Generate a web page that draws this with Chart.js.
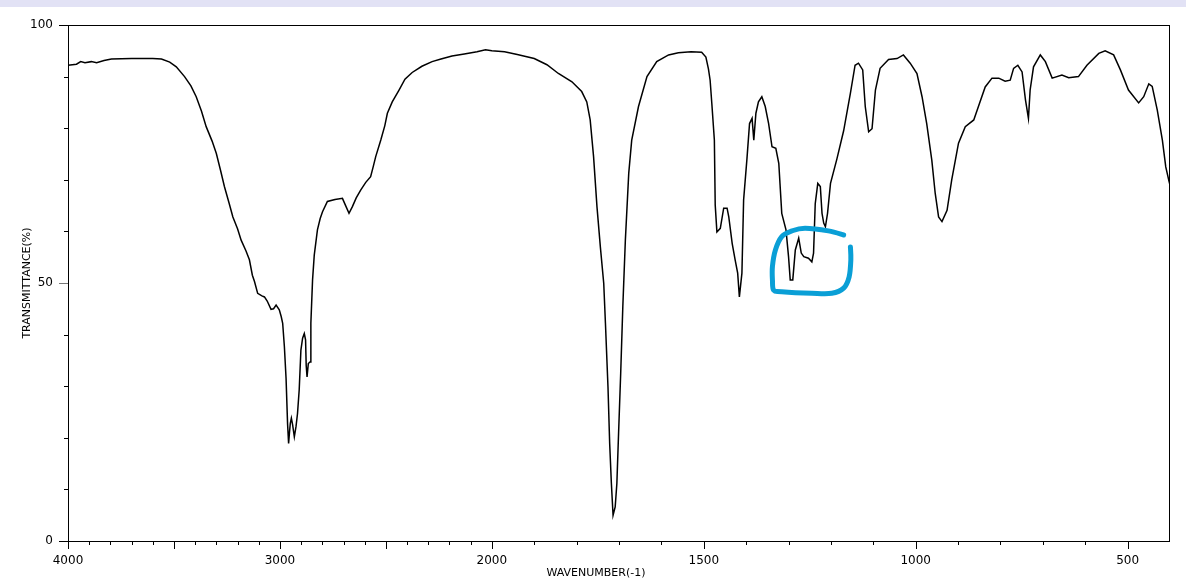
<!DOCTYPE html>
<html>
<head>
<meta charset="utf-8">
<title>IR spectrum</title>
<script src="https://cdn.jsdelivr.net/npm/chart.js@4.4.1/dist/chart.umd.min.js"></script>
<style>
  html, body { margin: 0; padding: 0; background: #fff; }
  #wrap { position: relative; width: 1186px; height: 581px; }
  #band { position: absolute; left: 0; top: 0; width: 1186px; height: 7px; background: #e2e2f5; }
</style>
</head>
<body>
<div id="wrap">
  <canvas id="irChart" width="1186" height="581"></canvas>
  <div id="band"></div>
</div>
<script>
// spectrum (wavenumber in cm-1, transmittance in %)
const wavenumbers = [
  4000, 3960, 3940, 3920, 3890, 3865, 3830, 3795, 3700, 3600, 3559, 3520, 3489, 3450, 3420, 3395,
  3370, 3348, 3320, 3300, 3280, 3262, 3240, 3222, 3200, 3183, 3160, 3144, 3130, 3120, 3105, 3085,
  3073, 3060, 3042, 3030, 3018, 3003, 2994, 2987, 2979, 2971, 2964, 2959, 2955, 2951, 2946, 2940,
  2932, 2924, 2917, 2909, 2901, 2893, 2885, 2879, 2876, 2872, 2866, 2858, 2854, 2846, 2838, 2823,
  2810, 2799, 2776, 2740, 2705, 2690, 2674, 2658, 2640, 2619, 2595, 2572, 2560, 2548, 2524, 2505,
  2493, 2470, 2438, 2410, 2376, 2330, 2282, 2240, 2188, 2130, 2070, 2030, 2000, 1970, 1940, 1900,
  1870, 1843, 1811, 1788, 1776, 1768, 1760, 1752, 1744, 1736, 1732, 1726, 1722, 1718, 1714, 1709,
  1705, 1701, 1696, 1691, 1685, 1677, 1670, 1654, 1634, 1611, 1583, 1560, 1530, 1505, 1495, 1489,
  1485, 1481, 1475, 1473, 1469, 1461, 1453, 1445, 1441, 1433, 1426, 1420, 1416, 1410, 1406, 1398,
  1392, 1386, 1382, 1377, 1371, 1363, 1355, 1347, 1339, 1330, 1323, 1316, 1306, 1300, 1296, 1290,
  1284, 1276, 1270, 1264, 1253, 1245, 1241, 1237, 1231, 1225, 1221, 1217, 1213, 1208, 1201, 1186,
  1170, 1154, 1143, 1135, 1125, 1119, 1111, 1103, 1095, 1084, 1064, 1044, 1029, 1013, 997, 985,
  974, 962, 954, 946, 938, 926, 915, 899, 883, 863, 852, 836, 820, 804, 789, 777,
  769, 759, 749, 741, 734, 730, 722, 706, 694, 678, 655, 639, 616, 596, 568, 553,
  533, 517, 498, 474, 462, 450, 442, 430, 418, 410, 402, 400
];
const transmittance = [
  92.2, 92.4, 92.9, 92.7, 92.9, 92.7, 93.1, 93.4, 93.5, 93.5, 93.4, 92.8, 91.9, 90.0, 88.2, 86.1,
  83.3, 80.3, 77.5, 75.1, 71.8, 68.7, 65.5, 62.8, 60.5, 58.3, 56.2, 54.5, 51.5, 50.3, 48.0, 47.5,
  47.3, 46.5, 44.9, 45.0, 45.7, 44.8, 43.5, 42.2, 37.7, 31.5, 22.8, 18.9, 21.0, 22.8, 23.8, 22.5,
  20.2, 22.2, 24.7, 29.3, 37.0, 39.3, 40.2, 39.0, 34.0, 31.8, 34.4, 34.7, 42.2, 50.6, 55.4, 60.3,
  62.5, 63.8, 65.8, 66.2, 66.4, 65.0, 63.5, 64.8, 66.5, 68.0, 69.5, 70.6, 72.5, 74.5, 77.7, 80.5,
  82.9, 85.1, 87.4, 89.5, 90.8, 92.0, 92.9, 93.4, 94.0, 94.4, 94.8, 95.2, 95.0, 94.8, 94.3, 93.5,
  92.3, 90.6, 89.0, 87.1, 85.1, 81.6, 74.5, 64.8, 57.0, 49.9, 42.2, 29.9, 18.9, 11.2, 5.0, 6.6,
  11.2, 20.9, 32.5, 45.4, 58.3, 71.3, 77.7, 84.2, 90.0, 92.9, 94.2, 94.6, 94.8, 94.7, 93.8, 91.5,
  89.3, 84.8, 77.7, 65.1, 59.9, 60.6, 64.5, 64.5, 62.8, 57.7, 54.5, 51.9, 47.3, 51.9, 66.1, 74.2,
  80.9, 81.9, 77.7, 82.9, 85.1, 86.1, 84.2, 80.9, 76.4, 76.1, 73.2, 63.5, 60.3, 55.1, 50.6, 50.6,
  56.4, 58.7, 55.8, 55.1, 54.8, 54.1, 55.8, 65.4, 69.3, 68.7, 63.5, 61.6, 60.9, 63.5, 69.3, 74.0,
  79.5, 86.8, 92.2, 92.6, 91.3, 84.2, 79.3, 79.9, 87.4, 91.6, 93.3, 93.5, 94.2, 92.6, 90.6, 86.1,
  80.9, 73.8, 67.4, 62.8, 61.9, 64.1, 70.0, 77.1, 80.3, 81.6, 84.2, 88.0, 89.7, 89.7, 89.1, 89.3,
  91.6, 92.2, 90.9, 85.5, 81.9, 87.4, 91.9, 94.2, 92.9, 89.7, 90.3, 89.8, 90.0, 92.2, 94.5, 95.0,
  94.2, 91.3, 87.4, 84.9, 86.1, 88.6, 88.1, 83.5, 77.7, 72.5, 69.6, 69.0
];

// axis ticks
const xTicks = [];
for (let w = 4000; w >= 500; w -= 100) xTicks.push(w);
const xLabels = [4000, 3000, 2000, 1500, 1000, 500];
const yTicks = [0, 10, 20, 30, 40, 50, 60, 70, 80, 90, 100];
const yLabels = [0, 50, 100];

// hand drawn marker around the 1300-1150 band (wavenumber, %T)
const markerPath = [
  [1170, 59.3], [1206, 60.1], [1261, 60.6], [1292, 60.1], [1316, 59.0], [1331, 56.4],
  [1338, 53.2], [1338, 50.6], [1335, 48.6], [1316, 48.3], [1245, 48.0], [1198, 48.0],
  [1170, 49.0], [1157, 51.2], [1153, 54.5], [1154, 57.0]
];

// x axis of the spectrometer: 4000-2000 at half scale, 2000-400 at full scale
const X_MAX = 4000, X_BREAK = 2000, X_MIN = 400;
const X_SPAN = (X_MAX - X_BREAK) / 2 + (X_BREAK - X_MIN);

class WavenumberScale extends Chart.LinearScale {
  getPixelForValue(value) {
    const u = value >= X_BREAK ? (X_MAX - value) / 2 : (X_MAX - X_BREAK) / 2 + (X_BREAK - value);
    return this.left + this.width * u / X_SPAN;
  }
  getValueForPixel(pixel) {
    const u = (pixel - this.left) / this.width * X_SPAN;
    const half = (X_MAX - X_BREAK) / 2;
    return u <= half ? X_MAX - 2 * u : X_BREAK - (u - half);
  }
}
WavenumberScale.id = 'wavenumber';
WavenumberScale.defaults = Chart.LinearScale.defaults;
Chart.register(WavenumberScale);

Chart.defaults.font.family = "'DejaVu Sans', sans-serif";
Chart.defaults.color = '#000';

// frame, tick marks, axis titles and the blue marker
const decorPlugin = {
  id: 'decor',
  afterDraw(chart) {
    const { ctx, chartArea: a, scales: { x, y } } = chart;
    ctx.save();

    ctx.strokeStyle = '#000';
    ctx.lineWidth = 1;
    ctx.strokeRect(a.left + 0.5, a.top + 0.5, a.right - a.left - 1, a.bottom - a.top);

    ctx.beginPath();
    x.ticks.forEach(t => {
      const px = Math.round(x.getPixelForValue(t.value)) + 0.5;
      const len = t.value % 500 === 0 ? 8 : 4;
      ctx.moveTo(px, a.bottom);
      ctx.lineTo(px, a.bottom + len);
    });
    ctx.stroke();

    y.ticks.forEach(t => {
      const py = Math.round(y.getPixelForValue(t.value)) + 0.5;
      const len = t.value % 50 === 0 ? 9 : 4;
      ctx.strokeStyle = t.value === 50 ? '#777' : '#000';
      ctx.beginPath();
      ctx.moveTo(a.left - len, py);
      ctx.lineTo(a.left, py);
      ctx.stroke();
    });

    ctx.fillStyle = '#000';
    ctx.font = "11px 'DejaVu Sans'";
    ctx.textAlign = 'center';
    ctx.textBaseline = 'middle';
    ctx.fillText('WAVENUMBER(-1)', 596, 573);
    ctx.translate(27, (a.top + a.bottom) / 2);
    ctx.rotate(-Math.PI / 2);
    ctx.fillText('TRANSMITTANCE(%)', 0, 0);
    ctx.setTransform(1, 0, 0, 1, 0, 0);

    // marker: smooth stroke through the path points
    const pts = markerPath.map(p => [x.getPixelForValue(p[0]), y.getPixelForValue(p[1])]);
    ctx.strokeStyle = '#0a9fd6';
    ctx.lineWidth = 5;
    ctx.lineCap = 'round';
    ctx.lineJoin = 'round';
    ctx.beginPath();
    ctx.moveTo(pts[0][0], pts[0][1]);
    for (let i = 0; i < pts.length - 1; i++) {
      const p0 = pts[Math.max(i - 1, 0)], p1 = pts[i], p2 = pts[i + 1], p3 = pts[Math.min(i + 2, pts.length - 1)];
      ctx.bezierCurveTo(
        p1[0] + (p2[0] - p0[0]) / 6, p1[1] + (p2[1] - p0[1]) / 6,
        p2[0] - (p3[0] - p1[0]) / 6, p2[1] - (p3[1] - p1[1]) / 6,
        p2[0], p2[1]
      );
    }
    ctx.stroke();
    ctx.restore();
  }
};

const ctx = document.getElementById('irChart').getContext('2d');
new Chart(ctx, {
  type: 'line',
  data: {
    datasets: [{
      label: 'Transmittance (%)',
      data: wavenumbers.map((w, i) => ({ x: w, y: transmittance[i] })),
      borderColor: '#000',
      borderWidth: 1.5,
      pointRadius: 0,
      tension: 0,
      fill: false
    }]
  },
  options: {
    responsive: false,
    animation: false,
    devicePixelRatio: 1,
    layout: { padding: { top: 25, right: 16, left: 0, bottom: 0 } },
    plugins: { legend: { display: false }, tooltip: { enabled: false } },
    scales: {
      x: {
        type: 'wavenumber',
        min: X_MIN,
        max: X_MAX,
        afterBuildTicks: axis => { axis.ticks = xTicks.map(v => ({ value: v })); },
        afterFit: axis => { axis.height = 40; },
        grid: { display: false, drawTicks: true, tickLength: 8 },
        border: { display: false },
        ticks: {
          autoSkip: false,
          maxRotation: 0,
          padding: 5,
          font: { size: 12 },
          callback: v => xLabels.includes(v) ? String(v) : ''
        }
      },
      y: {
        min: 0,
        max: 100,
        afterBuildTicks: axis => { axis.ticks = yTicks.map(v => ({ value: v })); },
        afterFit: axis => { axis.width = 68; },
        grid: { display: false, drawTicks: true, tickLength: 9 },
        border: { display: false },
        ticks: {
          autoSkip: false,
          padding: 6,
          font: { size: 12 },
          callback: v => yLabels.includes(v) ? String(v) : ''
        }
      }
    }
  },
  plugins: [decorPlugin]
});
</script>
</body>
</html>
